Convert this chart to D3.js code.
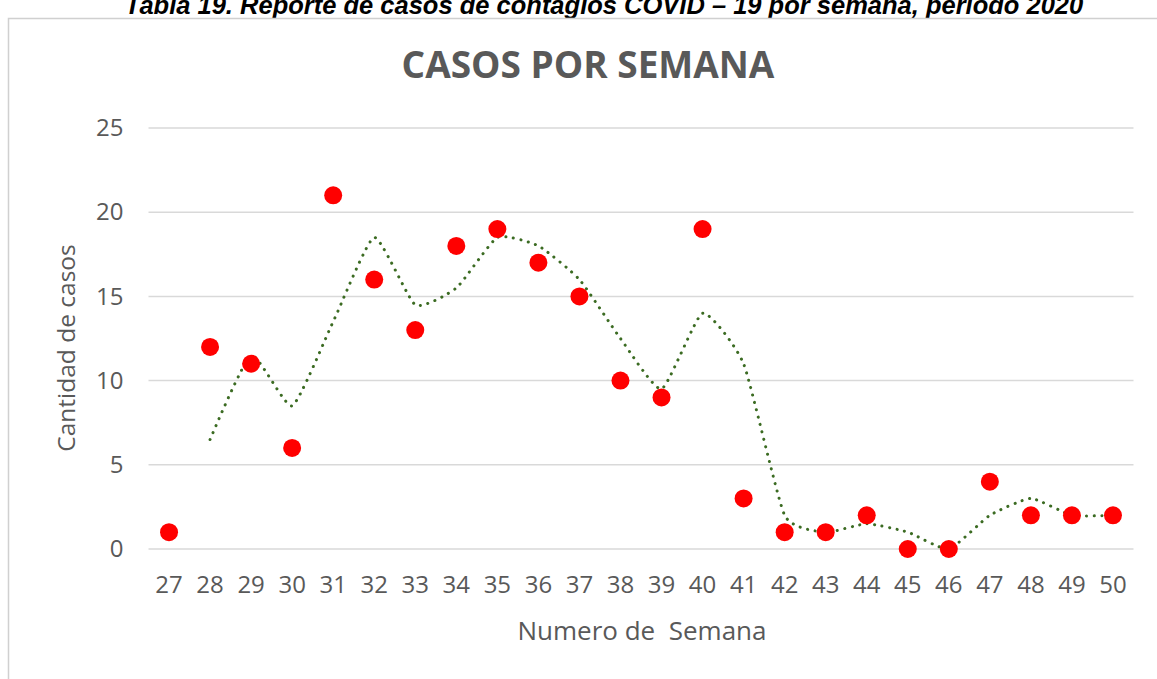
<!DOCTYPE html>
<html>
<head>
<meta charset="utf-8">
<script src="https://cdn.jsdelivr.net/npm/d3@7"></script>
<style>
  body { margin: 0; background: #fff; }
  svg { display: block; }
</style>
</head>
<body>
<div id="chart"></div>
<script>
// semanas y casos
var weeks = ['27', '28', '29', '30', '31', '32', '33', '34', '35', '36', '37', '38',
  '39', '40', '41', '42', '43', '44', '45', '46', '47', '48', '49', '50']
var cases = [1, 12, 11, 6, 21, 16, 13, 18, 19, 17, 15, 10, 9, 19, 3, 1, 1, 2, 0, 0, 4, 2, 2, 2]
// linea de tendencia (media movil de 2 periodos)
var trendWeeks = ['28', '29', '30', '31', '32', '33', '34', '35', '36', '37', '38', '39',
  '40', '41', '42', '43', '44', '45', '46', '47', '48', '49', '50']
var trend = [6.5, 11.5, 8.5, 13.5, 18.5, 14.5, 15.5, 18.5, 18, 16, 12.5, 9.5, 14, 11,
  2, 1, 1.5, 1, 0, 2, 3, 2, 2]
var yTicks = [0, 5, 10, 15, 20, 25]

var width_all = 1157,
  height_all = 679
var margin = { top: 128, right: 24, bottom: 130, left: 148.5 }
var width = 985,
  height = 421

var svg = d3
  .select('#chart')
  .append('svg')
  .attr('width', width_all)
  .attr('height', height_all)
  .style('font-family', "'Open Sans', sans-serif")

// titulo de la tabla (cortado arriba, como en el original)
svg
  .append('text')
  .attr('x', 604)
  .attr('y', 14)
  .attr('text-anchor', 'middle')
  .style('font-family', "'Liberation Sans', Arial, sans-serif")
  .style('font-weight', 'bold')
  .style('font-style', 'italic')
  .style('font-size', '25.5px')
  .attr('fill', '#000')
  .text('Tabla 19. Reporte de casos de contagios COVID – 19 por semana, período 2020')

// marco del grafico
svg
  .append('rect')
  .attr('x', 8.5)
  .attr('y', 18.5)
  .attr('width', 1160)
  .attr('height', 700)
  .attr('fill', '#fff')
  .attr('stroke', '#d0d0d0')
  .attr('stroke-width', 1.5)

svg
  .append('text')
  .attr('x', 588)
  .attr('y', 78)
  .attr('text-anchor', 'middle')
  .style('font-weight', 'bold')
  .style('font-size', '37px')
  .attr('fill', '#595959')
  .text('CASOS POR SEMANA')

var g = svg
  .append('g')
  .attr('transform', 'translate(' + margin.left + ',' + margin.top + ')')

var x = d3.scaleBand().domain(weeks).range([0, width])
var y = d3.scaleLinear().domain([0, 25]).range([height, 0])

// lineas de cuadricula
g.append('g')
  .selectAll('line')
  .data(yTicks)
  .enter()
  .append('line')
  .attr('x1', 0)
  .attr('x2', width)
  .attr('y1', d => y(d))
  .attr('y2', d => y(d))
  .attr('stroke', '#d9d9d9')
  .attr('stroke-width', 1.5)

// eje y
var yAxis = g.append('g').call(d3.axisLeft(y).tickValues(yTicks).tickSize(0).tickPadding(25))
yAxis.select('.domain').remove()
yAxis
  .selectAll('text')
  .attr('fill', '#595959')
  .style('font-family', "'Open Sans', sans-serif")
  .style('font-size', '24px')

// eje x
var xAxis = g
  .append('g')
  .attr('transform', 'translate(0,' + height + ')')
  .call(d3.axisBottom(x).tickSize(0).tickPadding(27))
xAxis.select('.domain').remove()
xAxis
  .selectAll('text')
  .attr('fill', '#595959')
  .style('font-family', "'Open Sans', sans-serif")
  .style('font-size', '24px')

// titulos de ejes
svg
  .append('text')
  .attr('x', 642)
  .attr('y', 640)
  .attr('text-anchor', 'middle')
  .style('font-size', '26px')
  .attr('fill', '#595959')
  .style('white-space', 'pre')
  .text('Numero de  Semana')

svg
  .append('text')
  .attr('transform', 'translate(75,' + 348 + ') rotate(-90)')
  .attr('text-anchor', 'middle')
  .style('font-size', '24.5px')
  .attr('fill', '#595959')
  .text('Cantidad de casos')

// linea de tendencia punteada
var trendData = trendWeeks.map((w, i) => ({ w: w, v: trend[i] }))
g.append('path')
  .datum(trendData)
  .attr('fill', 'none')
  .attr('stroke', '#3b6b22')
  .attr('stroke-width', 3)
  .attr('stroke-linecap', 'round')
  .attr('stroke-dasharray', '0.1 7.5')
  .attr(
    'd',
    d3
      .line()
      .curve(d3.curveCardinal.tension(0.5))
      .x(d => x(d.w) + x.bandwidth() / 2)
      .y(d => y(d.v))
  )

// puntos
g.append('g')
  .selectAll('circle')
  .data(weeks.map((w, i) => ({ w: w, v: cases[i] })))
  .enter()
  .append('circle')
  .attr('cx', d => x(d.w) + x.bandwidth() / 2)
  .attr('cy', d => y(d.v))
  .attr('r', 9)
  .attr('fill', '#ff0000')
</script>
</body>
</html>
